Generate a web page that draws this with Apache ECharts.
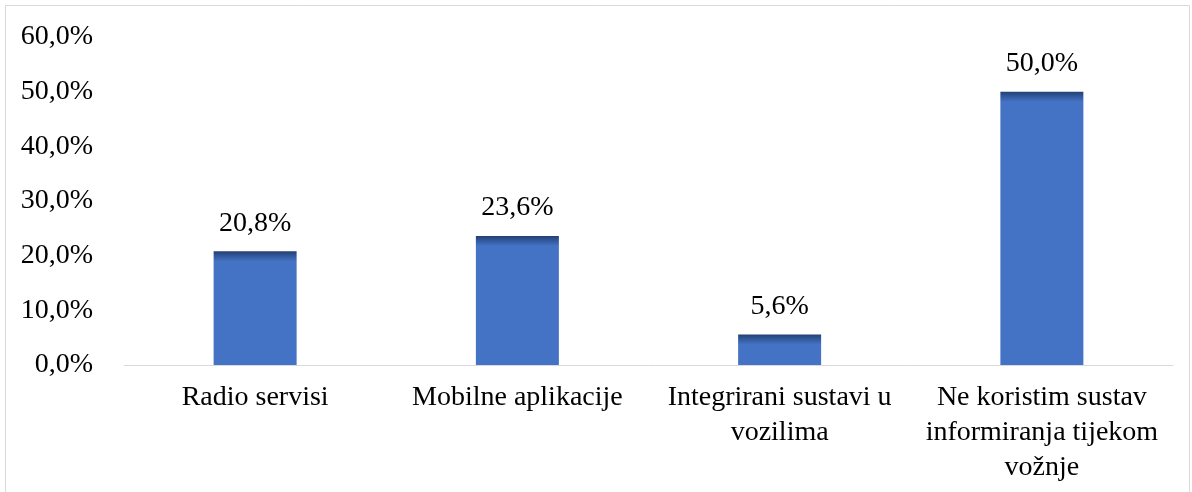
<!DOCTYPE html>
<html><head><meta charset="utf-8">
<script src="https://cdn.jsdelivr.net/npm/echarts@6/dist/echarts.min.js"></script>
<style>html,body{margin:0;padding:0;background:#fff}#c{width:1192px;height:492px}</style>
</head><body><div id="c"></div>
<script>
const categories = ['Radio servisi', 'Mobilne aplikacije', 'Integrirani sustavi u\nvozilima', 'Ne koristim sustav\ninformiranja tijekom\nvožnje'];
const values = [20.8, 23.6, 5.6, 50.0];
const yTicks = [0, 10, 20, 30, 40, 50, 60];

const chart = echarts.init(document.getElementById('c'));
const font = '"Liberation Serif", "Times New Roman", serif';
const plotTop = 37, plotBottom = 365;
const pxPer = (plotBottom - plotTop) / 60;
function barColor(v) {
  const h = v * pxPer;
  const f = Math.min(0.5, 10 / h);
  return new echarts.graphic.LinearGradient(0, 0, 0, 1, [
    { offset: 0, color: '#243f72' },
    { offset: f * 0.4, color: '#2f5596' },
    { offset: f, color: '#4472c4' },
    { offset: 1, color: '#4472c4' }
  ]);
}
chart.setOption({
  animation: false,
  graphic: [{ type: 'rect', shape: { x: 5.5, y: 5.5, width: 1184, height: 500 }, style: { fill: 'none', stroke: '#d9d9d9', lineWidth: 1 } }],
  grid: { left: 124, right: 19, top: plotTop, bottom: 492 - plotBottom },
  xAxis: {
    type: 'category', data: categories,
    axisLine: { lineStyle: { color: '#d9d9d9', width: 1 } },
    axisTick: { show: false },
    axisLabel: { fontFamily: font, fontSize: 28, color: '#000', lineHeight: 35, margin: 15, interval: 0 }
  },
  yAxis: {
    type: 'value', min: 0, max: 60, interval: 10,
    axisLine: { show: false }, axisTick: { show: false },
    splitLine: { show: false },
    axisLabel: { fontFamily: font, fontSize: 28, color: '#000', margin: 31,
      formatter: v => yTicks.includes(v) ? v.toFixed(1).replace('.', ',') + '%' : '' }
  },
  series: [{
    type: 'bar', barWidth: 83,
    data: values.map(v => ({ value: v, itemStyle: { color: barColor(v) } })),
    label: { show: true, position: 'top', distance: 14, fontFamily: font, fontSize: 28, color: '#000',
      formatter: p => p.value.toFixed(1).replace('.', ',') + '%' }
  }]
});
</script></body></html>
